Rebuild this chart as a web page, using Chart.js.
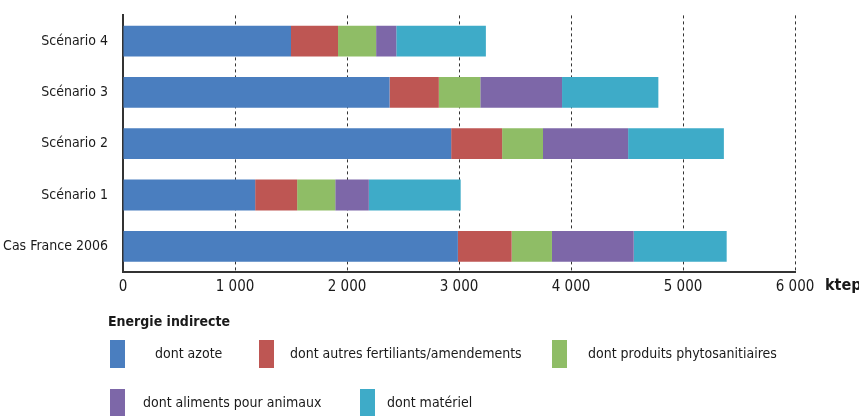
<!DOCTYPE html>
<html>
<head>
<meta charset="utf-8">
<script src="https://cdn.jsdelivr.net/npm/chart.js@4"></script>
<style>
  body { margin: 0; background: #fff; }
  #wrap { position: relative; width: 859px; height: 416px; font-family: 'Liberation Sans Narrow', 'DejaVu Sans Condensed', sans-serif; color: #1a1a1a; }
  #chart { position: absolute; left: 0; top: 0; }
  .title { position: absolute; left: 108px; top: 313px; font-weight: bold; font-size: 14px; }
  .item { position: absolute; font-size: 14px; white-space: nowrap; }
  .box { position: absolute; width: 15px; height: 28px; }
</style>
</head>
<body>
<div id="wrap">
  <canvas id="chart" width="859" height="416"></canvas>
  <div class="title">Energie indirecte</div>
</div>
<script>
// categories (top to bottom)
const categories = ['Scénario 4', 'Scénario 3', 'Scénario 2', 'Scénario 1', 'Cas France 2006'];

// series values, ktep
const azote    = [1500, 2380, 2930, 1180, 2990];
const autres   = [420, 440, 455, 375, 480];
const phyto    = [340, 370, 365, 340, 360];
const aliments = [180, 730, 760, 300, 730];
const materiel = [800, 860, 855, 820, 830];

const seriesNames = ['dont azote', 'dont autres fertiliants/amendements', 'dont produits phytosanitiaires',
  'dont aliments pour animaux', 'dont matériel'];
const seriesColors = ['#4a7ebf', '#be5653', '#8fbd66', '#7d67a8', '#3eabc8'];
const xTicks = [0, 1000, 2000, 3000, 4000, 5000, 6000];

const FONT = "'Liberation Sans Narrow', 'DejaVu Sans Condensed', sans-serif";

const datasets = [azote, autres, phyto, aliments, materiel].map((d, i) => ({
  label: seriesNames[i],
  data: d,
  backgroundColor: seriesColors[i],
  borderWidth: 0,
  categoryPercentage: 1,
  barPercentage: 0.6
}));

// "ktep" unit label next to the last tick
const unitLabel = {
  id: 'unitLabel',
  afterDraw(chart) {
    const { ctx, chartArea } = chart;
    ctx.save();
    ctx.font = 'bold 16px ' + FONT;
    ctx.fillStyle = '#1a1a1a';
    ctx.textBaseline = 'middle';
    ctx.fillText('ktep', chartArea.right + 30, chartArea.bottom + 14);
    ctx.restore();
  }
};

new Chart(document.getElementById('chart'), {
  type: 'bar',
  data: { labels: categories, datasets },
  plugins: [unitLabel],
  options: {
    indexAxis: 'y',
    responsive: false,
    animation: false,
    layout: { padding: { top: 3, right: 64, bottom: 114, left: 0 } },
    plugins: { legend: { display: false }, tooltip: { enabled: false } },
    scales: {
      x: {
        stacked: true,
        min: 0, max: 6000,
        afterBuildTicks: s => { s.ticks = xTicks.map(v => ({ value: v })); },
        afterFit: s => { s.height = 30; },
        border: { display: true, color: '#333', width: 2, dash: [3, 3] },
        grid: {
          color: c => c.tick.value === 0 ? 'rgba(0,0,0,0)' : '#333',
          lineWidth: 1,
          drawTicks: false
        },
        ticks: {
          padding: 6,
          color: '#1a1a1a',
          font: { family: FONT, size: 15 },
          callback: v => v === 0 ? '0' : String(v).replace(/(\d)(?=(\d{3})+$)/, '$1 ')
        }
      },
      y: {
        stacked: true,
        afterFit: s => { s.width = 123; },
        border: { display: true, color: '#333', width: 2 },
        grid: { display: false },
        ticks: {
          padding: 7,
          color: '#1a1a1a',
          font: { family: FONT, size: 14 }
        }
      }
    }
  }
});

// legend built from the series
const legendPos = [
  { box: 110, text: 155, top: 340 },
  { box: 259, text: 290, top: 340 },
  { box: 552, text: 588, top: 340 },
  { box: 110, text: 143, top: 389 },
  { box: 360, text: 387, top: 389 }
];
const wrap = document.getElementById('wrap');
seriesNames.forEach((name, i) => {
  const p = legendPos[i];
  const b = document.createElement('div');
  b.className = 'box';
  b.style.left = p.box + 'px';
  b.style.top = p.top + 'px';
  b.style.background = seriesColors[i];
  wrap.appendChild(b);
  const t = document.createElement('div');
  t.className = 'item';
  t.style.left = p.text + 'px';
  t.style.top = (p.top + 5) + 'px';
  t.textContent = name;
  wrap.appendChild(t);
});
</script>
</body>
</html>
